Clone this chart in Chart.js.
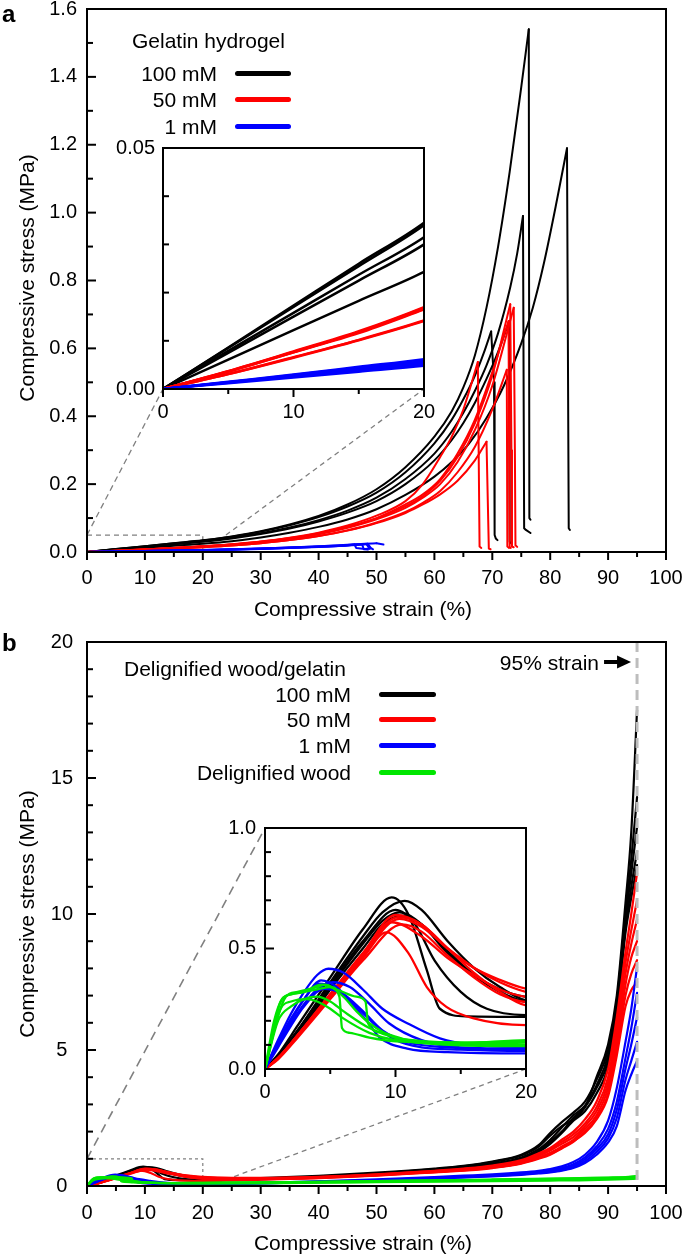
<!DOCTYPE html>
<html><head><meta charset="utf-8"><title>Compressive stress-strain curves</title>
<script src="https://cdn.jsdelivr.net/npm/chart.js@4/dist/chart.umd.min.js"></script>
<style>
html,body{margin:0;padding:0;background:#fff;}
#root{position:relative;width:685px;height:1255px;overflow:hidden;background:#fff;font-family:'Liberation Sans',Arial,Helvetica,sans-serif;color:#000;}
canvas{position:absolute;display:block;}
.txt{position:absolute;white-space:nowrap;font-size:21px;line-height:21px;}
.ctr{transform:translate(-50%,-50%);}
.rot{transform:translate(-50%,-50%) rotate(-90deg);}
.sw{position:absolute;height:5px;border-radius:3px;}
.lbl{position:absolute;font-weight:bold;font-size:24px;line-height:24px;}
</style></head>
<body><div id="root">
<canvas id="cA" width="710" height="645" style="left:0;top:-20px"></canvas>
<canvas id="cAi" width="360" height="310" style="left:100px;top:110px"></canvas>
<canvas id="cB" width="710" height="645" style="left:0;top:610px"></canvas>
<canvas id="cBi" width="360" height="320" style="left:200px;top:790px"></canvas>

<div class="lbl" style="left:2px;top:2px">a</div>
<div class="lbl" style="left:2px;top:631px">b</div>

<div class="txt ctr" style="left:363px;top:608px">Compressive strain (%)</div>
<div class="txt rot" style="left:26px;top:278px">Compressive stress (MPa)</div>
<div class="txt ctr" style="left:363px;top:1242px">Compressive strain (%)</div>
<div class="txt rot" style="left:26px;top:914px">Compressive stress (MPa)</div>

<div class="txt" style="left:132px;top:29.5px">Gelatin hydrogel</div>
<div class="txt" style="right:468px;top:62.5px">100 mM</div>
<div class="txt" style="right:468px;top:89px">50 mM</div>
<div class="txt" style="right:468px;top:115.5px">1 mM</div>
<div class="sw" style="left:235px;width:56px;top:70.5px;background:#000"></div>
<div class="sw" style="left:235px;width:56px;top:97px;background:#ff0000"></div>
<div class="sw" style="left:235px;width:56px;top:123.5px;background:#0000ff"></div>

<div class="txt" style="left:124px;top:657.5px">Delignified wood/gelatin</div>
<div class="txt" style="right:334px;top:683.5px">100 mM</div>
<div class="txt" style="right:334px;top:709px">50 mM</div>
<div class="txt" style="right:334px;top:734.5px">1 mM</div>
<div class="txt" style="right:334px;top:761.5px">Delignified wood</div>
<div class="sw" style="left:379px;width:57px;top:691.5px;background:#000"></div>
<div class="sw" style="left:379px;width:57px;top:717px;background:#ff0000"></div>
<div class="sw" style="left:379px;width:57px;top:742.5px;background:#0000ff"></div>
<div class="sw" style="left:379px;width:57px;top:769.5px;background:#00e600"></div>
<div class="txt" style="right:86px;top:651.5px">95% strain</div>
</div>
<script>
// ================= Panel a : gelatin hydrogel (strain %, stress MPa) =================
const aBlk1X = [0,5,10,15,20,25,30,35,40,45,50,55,60,63,65,67,69,71,73,75,76.3,76.4,76.6];
const aBlk1Y = [0,0.0086,0.0173,0.026,0.0345,0.046,0.061,0.081,0.106,0.14,0.185,0.25,0.34,0.415,0.485,0.58,0.72,0.90,1.12,1.37,1.54,0.10,0.095];
const aBlk2X = [0,5,10,15,20,25,30,35,40,45,50,55,60,63,65,67,68.5,69.8,70.3,70.4,70.6,70.9];
const aBlk2Y = [0,0.0085,0.017,0.0255,0.034,0.045,0.06,0.079,0.103,0.134,0.175,0.235,0.32,0.39,0.45,0.52,0.585,0.65,0.50,0.05,0.04,0.035];
const aBlk3X = [0,5,10,15,20,25,30,35,40,45,50,55,60,63,65,67,69,71,73.1,74.3,75.3,75.5,75.8,76.6];
const aBlk3Y = [0,0.0079,0.0158,0.0237,0.0315,0.042,0.055,0.072,0.094,0.122,0.16,0.215,0.29,0.355,0.41,0.475,0.55,0.645,0.78,0.88,0.99,0.07,0.065,0.056];
const aBlk4X = [0,5,10,15,20,25,30,35,40,45,50,55,60,63,65,67,69,71,72.9,73.0,73.3];
const aBlk4Y = [0,0.0075,0.015,0.0225,0.030,0.040,0.053,0.069,0.09,0.116,0.15,0.2,0.27,0.33,0.38,0.44,0.51,0.59,0.68,0.03,0.025];
const aBlk5X = [0,5,10,15,20,25,30,35,40,45,50,55,60,63,66,69,72,75,77,78.9,81.2,82.9,83.2,83.4];
const aBlk5Y = [0,0.0061,0.0122,0.0183,0.0243,0.032,0.043,0.057,0.074,0.096,0.126,0.168,0.222,0.265,0.32,0.395,0.49,0.615,0.72,0.85,1.04,1.19,0.07,0.065];

const aRed1X = [0,5,10,15,20,25,30,35,40,45,50,55,58,61,63,65,67.5,67.8,68.1];
const aRed1Y = [0,0.0037,0.0078,0.012,0.017,0.023,0.031,0.042,0.057,0.078,0.107,0.15,0.20,0.28,0.34,0.42,0.56,0.016,0.012];
const aRed2X = [0,5,10,15,20,25,30,35,40,45,50,55,58,61,64,67,69.0,69.4,69.7];
const aRed2Y = [0,0.0031,0.0065,0.0101,0.0141,0.019,0.026,0.035,0.047,0.063,0.085,0.115,0.14,0.17,0.21,0.27,0.325,0.01,0.008];
const aRed3X = [0,5,10,15,20,25,30,35,40,45,50,55,58,61,64,67,70,73.1,73.3,73.4,73.7];
const aRed3Y = [0,0.0037,0.0077,0.0118,0.0168,0.022,0.030,0.040,0.054,0.073,0.099,0.135,0.165,0.21,0.28,0.38,0.52,0.73,0.30,0.016,0.014];
const aRed4X = [0,5,10,15,20,25,30,35,40,45,50,55,58,61,64,67,70,73.7,73.9,74.0,74.3];
const aRed4Y = [0,0.0036,0.0076,0.0116,0.0165,0.0215,0.029,0.039,0.052,0.071,0.096,0.13,0.16,0.20,0.265,0.36,0.49,0.72,0.30,0.02,0.015];
const aRed5X = [0,5,10,15,20,25,30,35,40,45,50,55,58,61,64,67,70,72.5,72.6,72.9];
const aRed5Y = [0,0.0031,0.0066,0.0102,0.0142,0.019,0.026,0.035,0.047,0.064,0.087,0.118,0.145,0.18,0.235,0.31,0.42,0.537,0.016,0.012];
const aRed6X = [0,5,10,15,20,25,30,35,40,45,50,55,58,61,64,67,70,72.8,73.0,73.2];
const aRed6Y = [0,0.0036,0.0076,0.0118,0.0166,0.022,0.030,0.041,0.055,0.075,0.10,0.14,0.17,0.215,0.29,0.39,0.53,0.68,0.015,0.012];

const aBlu1X = [0,5,10,15,20,25,30,35,40,45,48,50,51.2];
const aBlu1Y = [0,0.0015,0.003,0.0046,0.0062,0.0082,0.0105,0.0135,0.017,0.021,0.0245,0.0255,0.022];
const aBlu2X = [0,5,10,15,20,25,30,35,40,45,48.5,49.0,49.4];
const aBlu2Y = [0,0.0014,0.0029,0.0044,0.0058,0.0078,0.0101,0.013,0.0162,0.020,0.024,0.012,0.008];
const aBlu3X = [0,5,10,15,20,25,30,35,40,44.5,46.2,46.5,48,49];
const aBlu3Y = [0,0.0014,0.0027,0.0041,0.0055,0.0074,0.0097,0.0127,0.0158,0.0195,0.022,0.012,0.009,0.010];
const aBlu4X = [0,5,10,15,20,25,30,35,40,45,47.5,47.8,48.5];
const aBlu4Y = [0,0.0013,0.0026,0.0039,0.0052,0.007,0.0093,0.0122,0.0152,0.0195,0.023,0.008,0.007];
const aBlu5X = [0,5,10,15,20,25,30,35,40,45,48.3,48.8];
const aBlu5Y = [0,0.0012,0.0024,0.0036,0.0048,0.0066,0.0089,0.0117,0.0148,0.019,0.0225,0.01];

// ================= Panel b : delignified wood/gelatin =================
const bTailX = [20,25,30,40,50,60,65,70,75,78,80,82,84,86,88,90,91.5,93,94,95];
const gTailX = [20,30,40,50,60,70,80,85,90,93,95];

const bBlk1X = [0,1,2.5,5,7.5,9.7,11,12.4,13.4,15.5];
const bBlk1Y = [0,0.06,0.18,0.38,0.58,0.712,0.64,0.41,0.25,0.218];
const bBlk1T = [0.216,0.23,0.26,0.34,0.46,0.62,0.72,0.88,1.12,1.45,1.85,2.2,2.45,2.9,4.0,5.2,7.0,10.4,13.0,17.5];
const bBlk2X = [0,1,2.5,5,7.5,9,10.7,12,14,16,18];
const bBlk2Y = [0,0.055,0.16,0.36,0.55,0.65,0.698,0.66,0.53,0.42,0.34];
const bBlk2T = [0.285,0.27,0.29,0.37,0.49,0.64,0.74,0.9,1.15,1.5,1.95,2.35,2.7,3.1,3.9,5.0,6.8,10.0,12.0,14.3];
const bBlk3X = [0,1,2.5,5,7.5,9,10.3,12,14,16,18];
const bBlk3Y = [0,0.05,0.15,0.34,0.52,0.615,0.65,0.6,0.48,0.39,0.33];
const bBlk3T = [0.299,0.28,0.28,0.35,0.46,0.6,0.68,0.82,1.05,1.35,1.7,2.15,2.6,2.95,3.7,4.8,6.6,9.8,11.5,13.2];
const bBlk4X = [0,1,2.5,5,7.5,9,10.6,12,14,16,18];
const bBlk4Y = [0,0.05,0.14,0.33,0.5,0.6,0.636,0.6,0.49,0.39,0.32];
const bBlk4T = [0.278,0.26,0.27,0.33,0.44,0.58,0.66,0.8,1.0,1.3,1.62,2.0,2.5,2.9,3.6,4.6,6.4,9.5,11.0,12.3];
const bBlk5X = [0,1,2.5,5,7.5,10,11.5,13,15,17];
const bBlk5Y = [0,0.055,0.16,0.35,0.53,0.66,0.6,0.45,0.32,0.25];
const bBlk5T = [0.223,0.22,0.24,0.31,0.42,0.56,0.64,0.77,0.95,1.25,1.55,1.95,2.4,2.75,3.4,4.4,6.3,9.3,10.6,11.8];

const bRed1X = [0,1,2.5,5,7.5,10,12,14,16,18];
const bRed1Y = [0,0.045,0.14,0.31,0.48,0.639,0.6,0.5,0.42,0.37];
const bRed1T = [0.333,0.3,0.3,0.34,0.43,0.56,0.64,0.75,0.95,1.2,1.4,1.7,2.0,2.45,3.1,4.3,6.2,8.6,10.0,11.5];
const bRed2X = [0,1,2.5,5,7.5,10.3,12,14,16,18];
const bRed2Y = [0,0.045,0.135,0.3,0.47,0.623,0.59,0.5,0.42,0.36];
const bRed2T = [0.32,0.29,0.29,0.33,0.42,0.55,0.62,0.73,0.92,1.15,1.35,1.62,1.9,2.3,2.9,4.0,5.8,8.2,9.4,10.5];
const bRed3X = [0,1,2.5,5,7.5,9.7,12,14,16,18];
const bRed3Y = [0,0.045,0.14,0.3,0.47,0.609,0.55,0.46,0.39,0.33];
const bRed3T = [0.299,0.28,0.28,0.32,0.41,0.53,0.6,0.7,0.88,1.1,1.3,1.55,1.8,2.2,2.75,3.8,5.5,7.8,8.9,9.8];
const bRed4X = [0,1,2.5,5,7.5,10.5,12,14,16,18];
const bRed4Y = [0,0.04,0.13,0.29,0.45,0.60,0.57,0.47,0.38,0.31];
const bRed4T = [0.278,0.27,0.27,0.31,0.4,0.52,0.58,0.68,0.85,1.05,1.22,1.45,1.7,2.1,2.6,3.6,5.2,7.4,8.4,9.0];
const bRed5X = [0,1,2.5,5,7.5,9.3,11,12.4,13.9,16];
const bRed5Y = [0,0.045,0.14,0.3,0.46,0.567,0.48,0.34,0.258,0.21];
const bRed5T = [0.182,0.2,0.23,0.29,0.38,0.5,0.56,0.66,0.82,1.0,1.15,1.38,1.62,2.0,2.5,3.4,5.0,7.0,7.8,8.3];
const bRed6X = [0,1,2.5,5,7.5,10.2,12,14,16,18];
const bRed6Y = [0,0.045,0.14,0.31,0.48,0.63,0.6,0.5,0.4,0.32];
const bRed6T = [0.264,0.25,0.26,0.3,0.39,0.51,0.57,0.67,0.84,1.02,1.18,1.4,1.65,1.95,2.45,3.3,4.8,6.6,7.2,7.5];

const bBlu1X = [0,1,2,3,4,4.85,6,7.5,9,10.9,13.4,16];
const bBlu1Y = [0,0.12,0.23,0.32,0.39,0.416,0.40,0.33,0.25,0.19,0.127,0.1];
const bBlu1T = [0.092,0.1,0.12,0.17,0.24,0.33,0.38,0.43,0.5,0.56,0.62,0.72,0.88,1.15,1.6,2.4,3.6,5.3,6.5,8.05];
const bBlu2X = [0,1,2,3,4.3,5.5,6.5,7.8,8.8,10.9,14];
const bBlu2Y = [0,0.1,0.2,0.29,0.368,0.34,0.28,0.20,0.13,0.085,0.07];
const bBlu2T = [0.065,0.08,0.1,0.15,0.21,0.3,0.34,0.39,0.46,0.52,0.57,0.66,0.8,1.05,1.45,2.1,3.1,4.7,5.8,7.1];
const bBlu3X = [0,1,2,3,4.1,5.5,7,8.5,10,12,15];
const bBlu3Y = [0,0.11,0.21,0.29,0.354,0.33,0.26,0.18,0.12,0.09,0.08];
const bBlu3T = [0.075,0.09,0.11,0.16,0.22,0.3,0.35,0.39,0.45,0.5,0.55,0.62,0.75,0.98,1.35,1.9,2.8,4.3,5.2,6.2];
const bBlu4X = [0,1,2,3,4.5,6,7.5,9,11,14];
const bBlu4Y = [0,0.09,0.18,0.26,0.333,0.31,0.24,0.16,0.11,0.09];
const bBlu4T = [0.08,0.09,0.11,0.15,0.21,0.28,0.33,0.37,0.43,0.48,0.52,0.58,0.7,0.9,1.25,1.75,2.5,3.9,4.6,5.3];
const bBlu5X = [0,1,2,3,4,5.2,6.5,8,9.5,12,15];
const bBlu5Y = [0,0.1,0.19,0.27,0.33,0.36,0.34,0.27,0.19,0.12,0.09];
const bBlu5T = [0.085,0.09,0.1,0.14,0.2,0.27,0.31,0.35,0.41,0.46,0.5,0.56,0.66,0.84,1.15,1.6,2.2,3.5,4.1,4.6];

const bGrn1X = [0,0.6,1.2,2,3,4,5,5.7,5.9,6.5,8,10,15];
const bGrn1Y = [0,0.15,0.28,0.31,0.32,0.33,0.34,0.30,0.17,0.15,0.13,0.115,0.11];
const bGrn1T = [0.115,0.13,0.15,0.18,0.2,0.23,0.26,0.28,0.3,0.32,0.35];
const bGrn2X = [0,0.7,1.3,2,3,4.3,5.5,7,7.7,7.9,9,11,15];
const bGrn2Y = [0,0.2,0.29,0.31,0.32,0.35,0.33,0.30,0.28,0.19,0.15,0.12,0.105];
const bGrn2T = [0.11,0.12,0.14,0.17,0.2,0.22,0.25,0.27,0.29,0.31,0.34];
const bGrn3X = [0,1,2,3,4,5,6,8,10,14];
const bGrn3Y = [0,0.2,0.26,0.29,0.3,0.28,0.24,0.17,0.13,0.11];
const bGrn3T = [0.1,0.11,0.13,0.15,0.18,0.2,0.23,0.25,0.27,0.29,0.31];
const bGrn4X = [0,1,1.6,2.5,4,4.6,6,7,8,10,14];
const bGrn4Y = [0,0.22,0.30,0.32,0.34,0.35,0.30,0.24,0.19,0.13,0.105];
const bGrn4T = [0.12,0.13,0.15,0.18,0.21,0.24,0.27,0.29,0.31,0.33,0.37];
const bGrn5X = [0,1.2,2,3.2,4,5,6,8,10];
const bGrn5Y = [0,0.25,0.28,0.29,0.28,0.25,0.21,0.15,0.12];
const bGrn5T = [0.095,0.1,0.12,0.14,0.16,0.18,0.2,0.21,0.23,0.25,0.27];

// tick label values
const aXTicks = [0,10,20,30,40,50,60,70,80,90,100];
const aYTicks = [0,0.2,0.4,0.6,0.8,1.0,1.2,1.4,1.6];
const bYTicks = [0,5,10,15,20];

// ================= colours & layout =================
const COL = {black:'#000000', red:'#ff0000', blue:'#0000ff', green:'#00e600'};
// canvas box (page px) and plot area inside the canvas
const LAY = {
  A:  {left:0,   top:-20, w:710, h:645, pl:87, pt:29, pr:666, pb:572},
  Ai: {left:100, top:110, w:360, h:310, pl:63, pt:38, pr:324, pb:279},
  B:  {left:0,   top:610, w:710, h:645, pl:87, pt:32, pr:666, pb:576},
  Bi: {left:200, top:790, w:360, h:320, pl:65, pt:38, pr:326, pb:279}
};
const FONT = "'Liberation Sans', Arial, sans-serif";
Chart.defaults.font.family = FONT;
Chart.defaults.color = '#000';

function pts(xs, ys){ return xs.map((x,i)=>({x:x, y:ys[i]})); }
function lineDs(data, color, width, mono){
  return {data:data, borderColor:color, backgroundColor:color, borderWidth:width, pointRadius:0,
          fill:false, tension:0, cubicInterpolationMode: mono ? 'monotone' : 'default',
          borderCapStyle:'round', borderJoinStyle:'round'};
}
// panel a: smooth rise up to failure, straight drop after it
function failureCurve(xs, ys, color, width){
  let k = 0; ys.forEach((v,i)=>{ if (v > ys[k]) k = i; });
  return [lineDs(pts(xs.slice(0,k+1), ys.slice(0,k+1)), color, width, true),
          lineDs(pts(xs.slice(k), ys.slice(k)), color, width, false)];
}
function fullCurve(lx, ly, tx, ty, color, width){
  return lineDs(pts(lx.concat(tx), ly.concat(ty)), color, width, true);
}

function datasetsA(width){
  const groups = [
    [COL.black, [[aBlk1X,aBlk1Y],[aBlk2X,aBlk2Y],[aBlk3X,aBlk3Y],[aBlk4X,aBlk4Y],[aBlk5X,aBlk5Y]]],
    [COL.red,   [[aRed1X,aRed1Y],[aRed2X,aRed2Y],[aRed3X,aRed3Y],[aRed4X,aRed4Y],[aRed5X,aRed5Y],[aRed6X,aRed6Y]]],
    [COL.blue,  [[aBlu1X,aBlu1Y],[aBlu2X,aBlu2Y],[aBlu3X,aBlu3Y],[aBlu4X,aBlu4Y],[aBlu5X,aBlu5Y]]]
  ];
  let out = [];
  groups.forEach(g => g[1].forEach(c => { out = out.concat(failureCurve(c[0], c[1], g[0], width)); }));
  return out.reverse(); // first dataset is drawn on top
}
function datasetsB(width){
  const out = [];
  [[bBlk1X,bBlk1Y,bBlk1T],[bBlk2X,bBlk2Y,bBlk2T],[bBlk3X,bBlk3Y,bBlk3T],[bBlk4X,bBlk4Y,bBlk4T],[bBlk5X,bBlk5Y,bBlk5T]]
    .forEach(c => out.push(fullCurve(c[0], c[1], bTailX, c[2], COL.black, width)));
  [[bRed1X,bRed1Y,bRed1T],[bRed2X,bRed2Y,bRed2T],[bRed3X,bRed3Y,bRed3T],[bRed4X,bRed4Y,bRed4T],[bRed5X,bRed5Y,bRed5T],[bRed6X,bRed6Y,bRed6T]]
    .forEach(c => out.push(fullCurve(c[0], c[1], bTailX, c[2], COL.red, width)));
  [[bBlu1X,bBlu1Y,bBlu1T],[bBlu2X,bBlu2Y,bBlu2T],[bBlu3X,bBlu3Y,bBlu3T],[bBlu4X,bBlu4Y,bBlu4T],[bBlu5X,bBlu5Y,bBlu5T]]
    .forEach(c => out.push(fullCurve(c[0], c[1], bTailX, c[2], COL.blue, width)));
  [[bGrn1X,bGrn1Y,bGrn1T],[bGrn2X,bGrn2Y,bGrn2T],[bGrn3X,bGrn3Y,bGrn3T],[bGrn4X,bGrn4Y,bGrn4T],[bGrn5X,bGrn5Y,bGrn5T]]
    .forEach(c => out.push(fullCurve(c[0], c[1], gTailX, c[2], COL.green, width)));
  return out.reverse();
}

// frame + inward y ticks + outward x ticks (major and minor)
const framePlugin = {
  id:'frame',
  beforeDraw(chart, args, o){
    if (!o.fill) return;
    const a = chart.chartArea, ctx = chart.ctx;
    ctx.save(); ctx.fillStyle = '#fff'; ctx.fillRect(a.left, a.top, a.right-a.left, a.bottom-a.top); ctx.restore();
  },
  afterDraw(chart, args, o){
    const {ctx, chartArea:a} = chart; const x = chart.scales.x, y = chart.scales.y;
    ctx.save(); ctx.strokeStyle = '#000'; ctx.lineWidth = 2; ctx.setLineDash([]); ctx.lineCap = 'butt';
    const isMaj = (v, m) => Math.abs(v/m - Math.round(v/m)) < 1e-6;
    let n = Math.round((x.max - x.min)/o.xMinor);
    for (let i=0;i<=n;i++){ const v = x.min + i*o.xMinor; const px = x.getPixelForValue(v);
      ctx.beginPath(); ctx.moveTo(px, a.bottom); ctx.lineTo(px, a.bottom + (isMaj(v,o.xMajor)?8:5)); ctx.stroke(); }
    n = Math.round((y.max - y.min)/o.yMinor);
    for (let i=0;i<=n;i++){ const v = y.min + i*o.yMinor; const py = y.getPixelForValue(v);
      ctx.beginPath(); ctx.moveTo(a.left, py); ctx.lineTo(a.left + (isMaj(v,o.yMajor)?9:6), py); ctx.stroke(); }
    ctx.strokeRect(a.left, a.top, a.right-a.left, a.bottom-a.top);
    ctx.restore();
  }
};

function insetBox(k, host){
  const L = LAY[k], H = LAY[host];
  return {left:L.left+L.pl-H.left, right:L.left+L.pr-H.left, top:L.top+L.pt-H.top, bottom:L.top+L.pb-H.top};
}
function dashed(ctx, pattern, w, pts2){
  ctx.save(); ctx.strokeStyle = '#808080'; ctx.lineWidth = w; ctx.setLineDash(pattern);
  ctx.beginPath(); ctx.moveTo(pts2[0][0], pts2[0][1]);
  for (let i=1;i<pts2.length;i++) ctx.lineTo(pts2[i][0], pts2[i][1]);
  ctx.stroke(); ctx.restore();
}
const guidesA = {
  id:'guidesA',
  beforeDatasetsDraw(chart){
    const ctx = chart.ctx, x = chart.scales.x, y = chart.scales.y, ib = insetBox('Ai','A');
    dashed(ctx, [5,4], 1.3, [[x.getPixelForValue(0), y.getPixelForValue(0.05)], [x.getPixelForValue(20), y.getPixelForValue(0.05)], [x.getPixelForValue(20), y.getPixelForValue(0)]]);
    dashed(ctx, [6,4], 1.3, [[x.getPixelForValue(0), y.getPixelForValue(0.05)], [ib.left, ib.bottom]]);
    dashed(ctx, [5,4], 1.3, [[x.getPixelForValue(24), y.getPixelForValue(0.05)], [ib.right, ib.bottom]]);
  }
};
const guidesB = {
  id:'guidesB',
  beforeDatasetsDraw(chart){
    const ctx = chart.ctx, x = chart.scales.x, y = chart.scales.y, ib = insetBox('Bi','B');
    dashed(ctx, [3,3], 1.2, [[x.getPixelForValue(0), y.getPixelForValue(1)], [x.getPixelForValue(20), y.getPixelForValue(1)], [x.getPixelForValue(20), y.getPixelForValue(0)]]);
    dashed(ctx, [9,6], 1.6, [[x.getPixelForValue(0), y.getPixelForValue(1)], [ib.left, ib.top]]);
    dashed(ctx, [5,4], 1.3, [[ib.right, ib.bottom], [x.getPixelForValue(21), y.getPixelForValue(0)]]);
  },
  afterDatasetsDraw(chart){
    const ctx = chart.ctx, a = chart.chartArea, x = chart.scales.x;
    const p = x.getPixelForValue(95);
    ctx.save(); ctx.strokeStyle = '#bdbdbd'; ctx.lineWidth = 3; ctx.setLineDash([10,6]);
    ctx.beginPath(); ctx.moveTo(p, a.top); ctx.lineTo(p, a.bottom); ctx.stroke();
    // arrow next to "95% strain"
    const ya = a.top + 20;
    ctx.setLineDash([]); ctx.strokeStyle = '#000'; ctx.fillStyle = '#000'; ctx.lineWidth = 4;
    ctx.beginPath(); ctx.moveTo(p-33, ya); ctx.lineTo(p-17, ya); ctx.stroke();
    ctx.beginPath(); ctx.moveTo(p-20, ya-6.5); ctx.lineTo(p-6, ya); ctx.lineTo(p-20, ya+6.5); ctx.closePath(); ctx.fill();
    ctx.restore();
  }
};

function makeChart(id, key, datasets, xCfg, yCfg, tickCfg, extra, fillWhite){
  const L = LAY[key];
  const base = {type:'linear', grid:{display:false, drawTicks:false}, border:{display:false}};
  return new Chart(document.getElementById(id), {
    type:'line',
    data:{datasets:datasets},
    options:{
      responsive:false, animation:false, events:[], devicePixelRatio:1,
      layout:{autoPadding:false, padding:{left:0, top:L.pt, right:L.w-L.pr, bottom:0}},
      plugins:{legend:{display:false}, tooltip:{enabled:false}, frame:Object.assign({fill:!!fillWhite}, tickCfg)},
      scales:{
        x:Object.assign({}, base, {afterFit:s=>{s.height = L.h - L.pb;}}, xCfg),
        y:Object.assign({}, base, {afterFit:s=>{s.width = L.pl;}}, yCfg)
      }
    },
    plugins:[framePlugin].concat(extra || [])
  });
}
const TF = {family:FONT, size:20};

// inset a
makeChart('cAi','Ai', datasetsA(2.5),
  {min:0, max:20, ticks:{stepSize:10, padding:11, font:TF, maxRotation:0, autoSkip:false}},
  {min:0, max:0.05, ticks:{stepSize:0.05, padding:8, font:TF, callback:v=>Number(v).toFixed(2)}},
  {xMinor:5, xMajor:10, yMinor:0.01, yMajor:0.05}, [], true);
// main a
makeChart('cA','A', datasetsA(2),
  {min:aXTicks[0], max:aXTicks[aXTicks.length-1], ticks:{stepSize:aXTicks[1]-aXTicks[0], padding:14.5, font:TF, maxRotation:0, autoSkip:false}},
  {min:aYTicks[0], max:aYTicks[aYTicks.length-1], ticks:{stepSize:aYTicks[1]-aYTicks[0], padding:10, font:TF, callback:v=>Number(v).toFixed(1)}},
  {xMinor:5, xMajor:10, yMinor:0.1, yMajor:0.2}, [guidesA], false);
// main b
makeChart('cB','B', datasetsB(2.2),
  {min:aXTicks[0], max:aXTicks[aXTicks.length-1], ticks:{stepSize:10, padding:15, font:TF, maxRotation:0, autoSkip:false}},
  {min:bYTicks[0], max:bYTicks[bYTicks.length-1], ticks:{stepSize:bYTicks[1]-bYTicks[0], padding:14, font:TF, crossAlign:'center'}},
  {xMinor:5, xMajor:10, yMinor:1, yMajor:5}, [guidesB], false);
// inset b
makeChart('cBi','Bi', datasetsB(2.3),
  {min:0, max:20, ticks:{stepSize:10, padding:11, font:TF, maxRotation:0, autoSkip:false}},
  {min:0, max:1, ticks:{stepSize:0.5, padding:9, font:TF, callback:v=>Number(v).toFixed(1)}},
  {xMinor:5, xMajor:10, yMinor:0.1, yMajor:0.5}, [], true);
</script>
</body></html>
